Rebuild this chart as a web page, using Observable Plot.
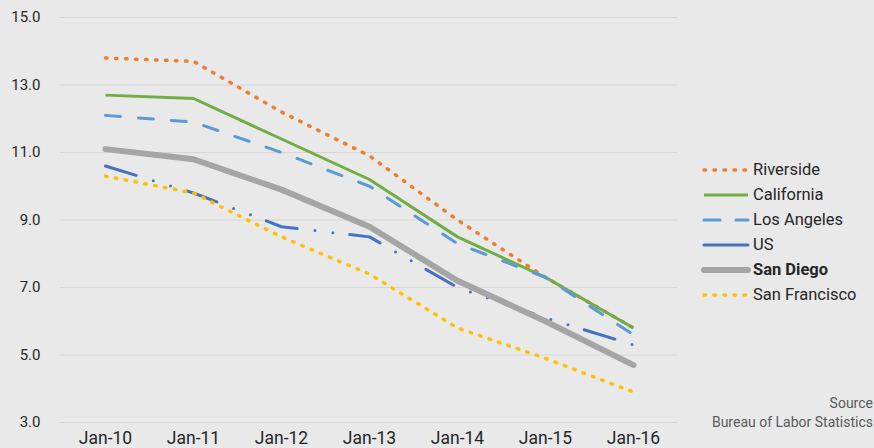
<!DOCTYPE html>
<html>
<head>
<meta charset="utf-8">
<script src="https://cdn.jsdelivr.net/npm/d3@7"></script>
<script src="https://cdn.jsdelivr.net/npm/@observablehq/plot@0.6"></script>
<style>
  html, body { margin: 0; padding: 0; background: #e9e9e9; }
  #wrap { position: relative; width: 874px; height: 448px; overflow: hidden; background: #e9e9e9; font-family: Roboto, "Noto Sans", sans-serif; }
  #legend { position: absolute; left: 699px; top: 157px; }
  .row { display: flex; align-items: center; height: 25px; font-size: 16.5px; color: #262626; }
  .row svg { margin-right: 2px; }
  #source { position: absolute; right: 1px; top: 394px; text-align: right; font-size: 14px; line-height: 19px; color: #595959; white-space: nowrap; }
</style>
</head>
<body>
<div id="wrap">
  <div id="chart"></div>
  <div id="legend"></div>
  <div id="source">Source<br>Bureau of Labor Statistics</div>
</div>
<script>
const months = ["Jan-10", "Jan-11", "Jan-12", "Jan-13", "Jan-14", "Jan-15", "Jan-16"];
const riverside    = [13.8, 13.7, 12.2, 10.9, 9.0, 7.3, 5.8];
const california   = [12.7, 12.6, 11.4, 10.2, 8.5, 7.3, 5.8];
const losAngeles   = [12.1, 11.9, 11.0, 10.0, 8.3, 7.3, 5.6];
const us           = [10.6, 9.8, 8.8, 8.5, 7.0, 6.1, 5.3];
const sanDiego     = [11.1, 10.8, 9.9, 8.8, 7.2, 6.0, 4.7];
const sanFrancisco = [10.3, 9.8, 8.5, 7.4, 5.8, 4.9, 3.9];
const yTicks = [3, 5, 7, 9, 11, 13, 15];

const seriesNames = ["Riverside", "California", "Los Angeles", "US", "San Diego", "San Francisco"];
const seriesValues = [riverside, california, losAngeles, us, sanDiego, sanFrancisco];
const styles = {
  "Riverside":     {stroke: "#ED7D31", strokeWidth: 3.5, strokeDasharray: "1.5 8.5", strokeLinecap: "round"},
  "California":    {stroke: "#70AD47", strokeWidth: 3, strokeLinecap: "butt"},
  "Los Angeles":   {stroke: "#5B9BD5", strokeWidth: 3, strokeDasharray: "15 18", strokeLinecap: "round"},
  "US":            {stroke: "#4472C4", strokeWidth: 3, strokeDasharray: "32 18 0 18 0 17", strokeLinecap: "round"},
  "San Diego":     {stroke: "#A5A5A5", strokeWidth: 6, strokeLinecap: "round"},
  "San Francisco": {stroke: "#FFC000", strokeWidth: 3.5, strokeDasharray: "1.5 8.5", strokeLinecap: "round"}
};

const lineMarks = seriesNames.map((name, i) => {
  const data = months.map((m, j) => ({month: m, value: seriesValues[i][j]}));
  return Plot.line(data, {x: "month", y: "value", strokeLinejoin: "round", ...styles[name]});
});

const chart = Plot.plot({
  width: 874,
  height: 448,
  marginLeft: 60,
  marginRight: 197,
  marginTop: 17,
  marginBottom: 26,
  style: {background: "transparent", fontFamily: "Roboto, sans-serif", color: "#262626"},
  x: {type: "point", domain: months, padding: 0.5, label: null},
  y: {domain: [3, 15], label: null},
  marks: [
    Plot.gridY(yTicks, {stroke: "#d6d6d6", strokeOpacity: 1, strokeWidth: 1}),
    Plot.axisY(yTicks, {tickSize: 0, tickPadding: 20, tickFormat: d => d.toFixed(1), fontSize: 15, label: null, fill: "#262626"}),
    Plot.axisX({tickSize: 0, tickPadding: 9, fontSize: 17.5, label: null, fill: "#262626"}),
    ...lineMarks
  ]
});
document.getElementById("chart").appendChild(chart);

// Legend
const legend = document.getElementById("legend");
seriesNames.forEach(name => {
  const s = styles[name];
  const row = document.createElement("div");
  row.className = "row";
  const svg = d3.create("svg").attr("width", 52).attr("height", 10);
  svg.append("line")
    .attr("x1", 5).attr("x2", 49).attr("y1", 5).attr("y2", 5)
    .attr("stroke", s.stroke)
    .attr("stroke-width", s.strokeWidth)
    .attr("stroke-linecap", s.strokeLinecap || "butt")
    .attr("stroke-dasharray", name === "Los Angeles" ? "16 16" : (name === "US" ? null : (s.strokeDasharray || null)));
  row.appendChild(svg.node());
  const label = document.createElement("span");
  label.textContent = name;
  if (name === "San Diego") label.style.fontWeight = "bold";
  row.appendChild(label);
  legend.appendChild(row);
});
</script>
</body>
</html>
